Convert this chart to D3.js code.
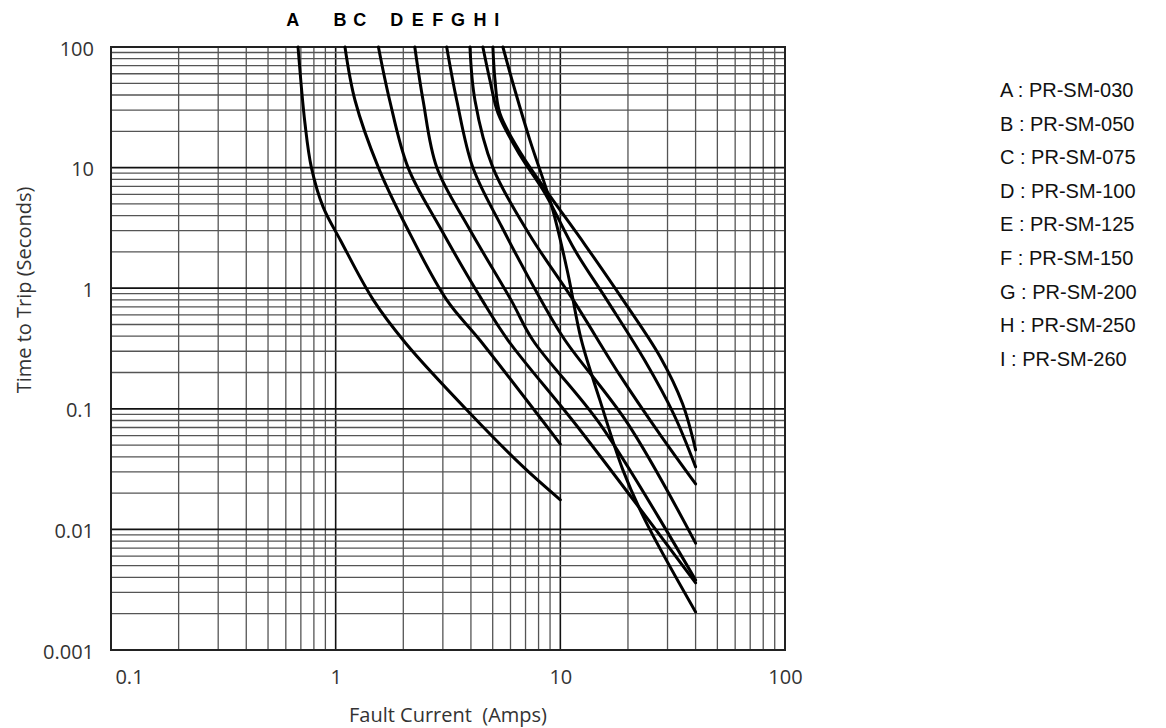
<!DOCTYPE html>
<html><head><meta charset="utf-8">
<script src="https://cdn.jsdelivr.net/npm/d3@7"></script>
<style>body{margin:0;background:#fff}</style>
</head><body><svg id="c" width="1166" height="728"></svg>
<script>
// ---- data ----
const curveNames = ["A","B","C","D","E","F","G","H","I"];
const partNumbers = ["PR-SM-030","PR-SM-050","PR-SM-075","PR-SM-100","PR-SM-125","PR-SM-150","PR-SM-200","PR-SM-250","PR-SM-260"];
// [fault current (A), time to trip (s)]
const curveA = [[0.68,100],[0.73,23.3],[0.78,10],[0.88,4.7],[1.05,2.5],[1.47,0.8],[2.05,0.35],[3.96,0.092],[6.84,0.033],[10,0.0176]];
const curveB = [[1.10,100],[1.22,36],[1.55,10],[2.07,3.2],[3.12,0.8],[4.39,0.37],[10,0.051]];
const curveC = [[1.55,100],[1.74,36],[2.10,10],[2.91,3.2],[4.48,0.8],[5.85,0.37],[12,0.07],[40,0.0036]];
const curveD = [[2.25,100],[2.45,36],[2.82,10],[3.9,3.2],[6.03,0.8],[7.55,0.37],[15,0.075],[40,0.0038]];
const curveE = [[3.12,100],[3.46,36],[4.08,10],[5.5,3.2],[8.20,0.8],[10.5,0.37],[20,0.075],[40,0.0077]];
const curveF = [[3.96,100],[4.17,36],[5.01,10],[7.32,2.75],[11.4,0.8],[18.4,0.19],[27.8,0.061],[40,0.0238]];
const curveG = [[4.52,100],[4.86,53],[5.28,28.2],[6.61,12.7],[8.54,6.14],[11.6,2.07],[16.1,0.8],[23.8,0.25],[32,0.09],[40,0.033]];
const curveH = [[5.01,100],[5.12,53],[5.38,28.2],[6.75,12.7],[8.81,6.14],[12.9,2.28],[19.0,0.8],[27.8,0.27],[35,0.11],[40,0.0456]];
const curveI = [[5.55,100],[6.28,43.8],[7.32,16.9],[9.18,4.7],[10.8,1.33],[12.4,0.372],[15.0,0.118],[19.0,0.031],[23.8,0.012],[40,0.00207]];
const curves = [curveA,curveB,curveC,curveD,curveE,curveF,curveG,curveH,curveI];
// current at which each top letter sits
const labelCurrents = [0.644,1.045,1.28,1.87,2.32,2.85,3.50,4.39,5.21];
const xTickValues = [0.1,1,10,100];
const xTickLabels = ["0.1","1","10","100"];
const yTickValues = [0.001,0.01,0.1,1,10,100];
const yTickLabels = ["0.001","0.01","0.1","1","10","100"];
const xTitle = "Fault Current  (Amps)";
const yTitle = "Time to Trip (Seconds)";

// ---- drawing ----
const svg = d3.select("#c");
const L = 111, R = 785, T = 47, B = 650;
const x = d3.scaleLog().domain([0.1,100]).range([L,R]);
const y = d3.scaleLog().domain([0.001,100]).range([B,T]);
const isMajor = v => Math.abs(Math.log10(v) - Math.round(Math.log10(v))) < 1e-9;

const grid = svg.append("g");
grid.selectAll("line.vx").data(x.ticks()).join("line")
  .attr("x1", d=>x(d)).attr("x2", d=>x(d)).attr("y1", T).attr("y2", B)
  .attr("stroke", d=> isMajor(d) ? "#111" : "#555")
  .attr("stroke-width", d=> isMajor(d) ? 1.6 : 1.3);
grid.selectAll("line.hy").data(y.ticks()).join("line")
  .attr("y1", d=>y(d)).attr("y2", d=>y(d)).attr("x1", L).attr("x2", R)
  .attr("stroke", d=> isMajor(d) ? "#111" : "#555")
  .attr("stroke-width", d=> isMajor(d) ? 1.8 : 1.3);

svg.append("rect").attr("x",L).attr("y",T).attr("width",R-L).attr("height",B-T)
  .attr("fill","none").attr("stroke","#222").attr("stroke-width",2);

const line = d3.line().x(d=>x(d[0])).y(d=>y(d[1])).curve(d3.curveCatmullRom.alpha(0.5));
svg.append("g").selectAll("path").data(curves).join("path")
  .attr("d", line).attr("fill","none").attr("stroke","#000")
  .attr("stroke-width",3).attr("stroke-linecap","round");

// axes
const tickFont = "'Open Sans', 'DejaVu Sans', sans-serif";
const ya = svg.append("g").attr("transform",`translate(${L},0)`)
  .call(d3.axisLeft(y).tickValues(yTickValues).tickFormat((d,i)=>yTickLabels[i]).tickSize(0).tickPadding(17));
ya.select(".domain").remove();
ya.selectAll("text").attr("font-family",tickFont).attr("font-size",20).attr("fill","#333").attr("dy","0.4em");

const xa = svg.append("g").attr("transform",`translate(0,${B})`)
  .call(d3.axisBottom(x).tickValues(xTickValues).tickFormat((d,i)=>xTickLabels[i]).tickSize(0).tickPadding(20));
xa.select(".domain").remove();
xa.selectAll("text").attr("font-family",tickFont).attr("font-size",20).attr("fill","#333")
  .attr("dx",(d,i)=> i===0 ? 18 : 0);

svg.append("text").attr("x",(L+R)/2).attr("y",722).attr("text-anchor","middle")
  .attr("font-family",tickFont).attr("font-size",20).attr("fill","#333")
  .style("white-space","pre").text(xTitle);
svg.append("text").attr("transform","translate(31,290) rotate(-90)").attr("text-anchor","middle")
  .attr("font-family",tickFont).attr("font-size",20).attr("fill","#333").text(yTitle);

// top letters
svg.append("g").selectAll("text").data(curveNames).join("text")
  .attr("x",(d,i)=>x(labelCurrents[i])).attr("y",26).attr("text-anchor","middle")
  .attr("font-family","'Liberation Sans', Arial, sans-serif").attr("font-weight","bold")
  .attr("font-size",18).attr("fill","#000").text(d=>d);

// legend
svg.append("g").selectAll("text").data(curveNames).join("text")
  .attr("x",1000).attr("y",(d,i)=>97 + i*33.6)
  .attr("font-family","'Liberation Sans', Arial, sans-serif").attr("font-size",20).attr("fill","#111")
  .text((d,i)=>`${d} : ${partNumbers[i]}`);
</script></body></html>
